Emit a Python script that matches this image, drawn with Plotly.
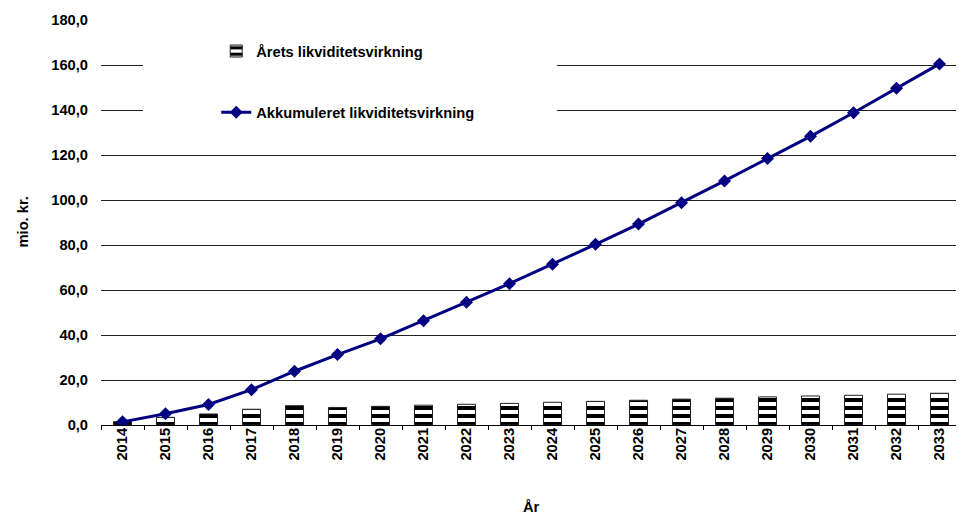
import plotly.graph_objects as go

years = [str(y) for y in range(2014, 2034)]
annual = [1.5, 3.4, 4.9, 7.0, 8.6, 7.8, 8.3, 8.8, 9.2, 9.6,
          10.1, 10.5, 11.0, 11.5, 11.9, 12.5, 12.9, 13.2, 13.7, 14.1]
cumulative = [1.4, 5.0, 9.1, 15.7, 23.9, 31.3, 38.3, 46.3, 54.6, 62.8,
              71.4, 80.3, 89.3, 98.8, 108.5, 118.4, 128.3, 138.8, 149.7, 160.5]
yticks = [0, 20, 40, 60, 80, 100, 120, 140, 160, 180]

FONT = "Arial, Liberation Sans, sans-serif"
FS = 14.7
BOLD = dict(family=FONT, size=FS, color="black", weight="bold")

fig = go.Figure()
fig.add_trace(go.Bar(
    x=years, y=annual, name="Årets likviditetsvirkning",
    legendgroup="a",
    marker=dict(color="white", line=dict(color="#222222", width=1),
                pattern=dict(shape="-", fgcolor="black", bgcolor="white",
                             fgopacity=1, size=8, solidity=0.5)),
))
fig.add_trace(go.Scatter(
    x=years, y=cumulative, name="Akkumuleret likviditetsvirkning",
    legendgroup="b",
    mode="lines+markers",
    line=dict(color="#000080", width=3),
    marker=dict(symbol="diamond", size=10, color="#000080"),
))

fig.add_shape(type="rect", xref="paper", yref="paper",
              x0=0.0488, x1=0.530, y0=0.729, y1=0.975,
              fillcolor="white", line=dict(width=0), layer="above")

fig.add_annotation(text="År", xref="paper", yref="paper", x=0.5, y=0,
                   yshift=-82, showarrow=False, font=BOLD,
                   xanchor="center", yanchor="middle")
fig.add_annotation(text="mio. kr.", xref="paper", yref="paper", x=0, y=0.5,
                   xshift=-79, showarrow=False, font=BOLD, textangle=-90,
                   xanchor="center", yanchor="middle")

fig.update_layout(
    width=956, height=508,
    margin=dict(l=93, r=3, t=12, b=90.5, autoexpand=False),
    paper_bgcolor="white", plot_bgcolor="white",
    separators=",.",
    font=BOLD,
    bargap=0.58,
    showlegend=True,
    legend=dict(x=0.134, y=0.963, xanchor="left", yanchor="top",
                bgcolor="rgba(0,0,0,0)", tracegroupgap=39,
                font=BOLD),
    xaxis=dict(
        type="category", range=[-0.5, len(years) - 0.5],
        tickangle=-90, tickson="boundaries",
        ticks="outside", ticklen=4, tickcolor="black",
        ticklabelstandoff=-4,
        showline=True, linecolor="black", linewidth=1,
        showgrid=False, tickfont=BOLD, automargin=False,
    ),
    yaxis=dict(
        range=[0, 180], tickvals=yticks, tickformat=".1f",
        tickfont=BOLD,
        showgrid=True, gridcolor="#222222", gridwidth=1,
        zeroline=False, showline=False, automargin=False,
        ticks="outside", ticklen=9, tickcolor="rgba(0,0,0,0)",
    ),
)

fig.write_html("out.html")
